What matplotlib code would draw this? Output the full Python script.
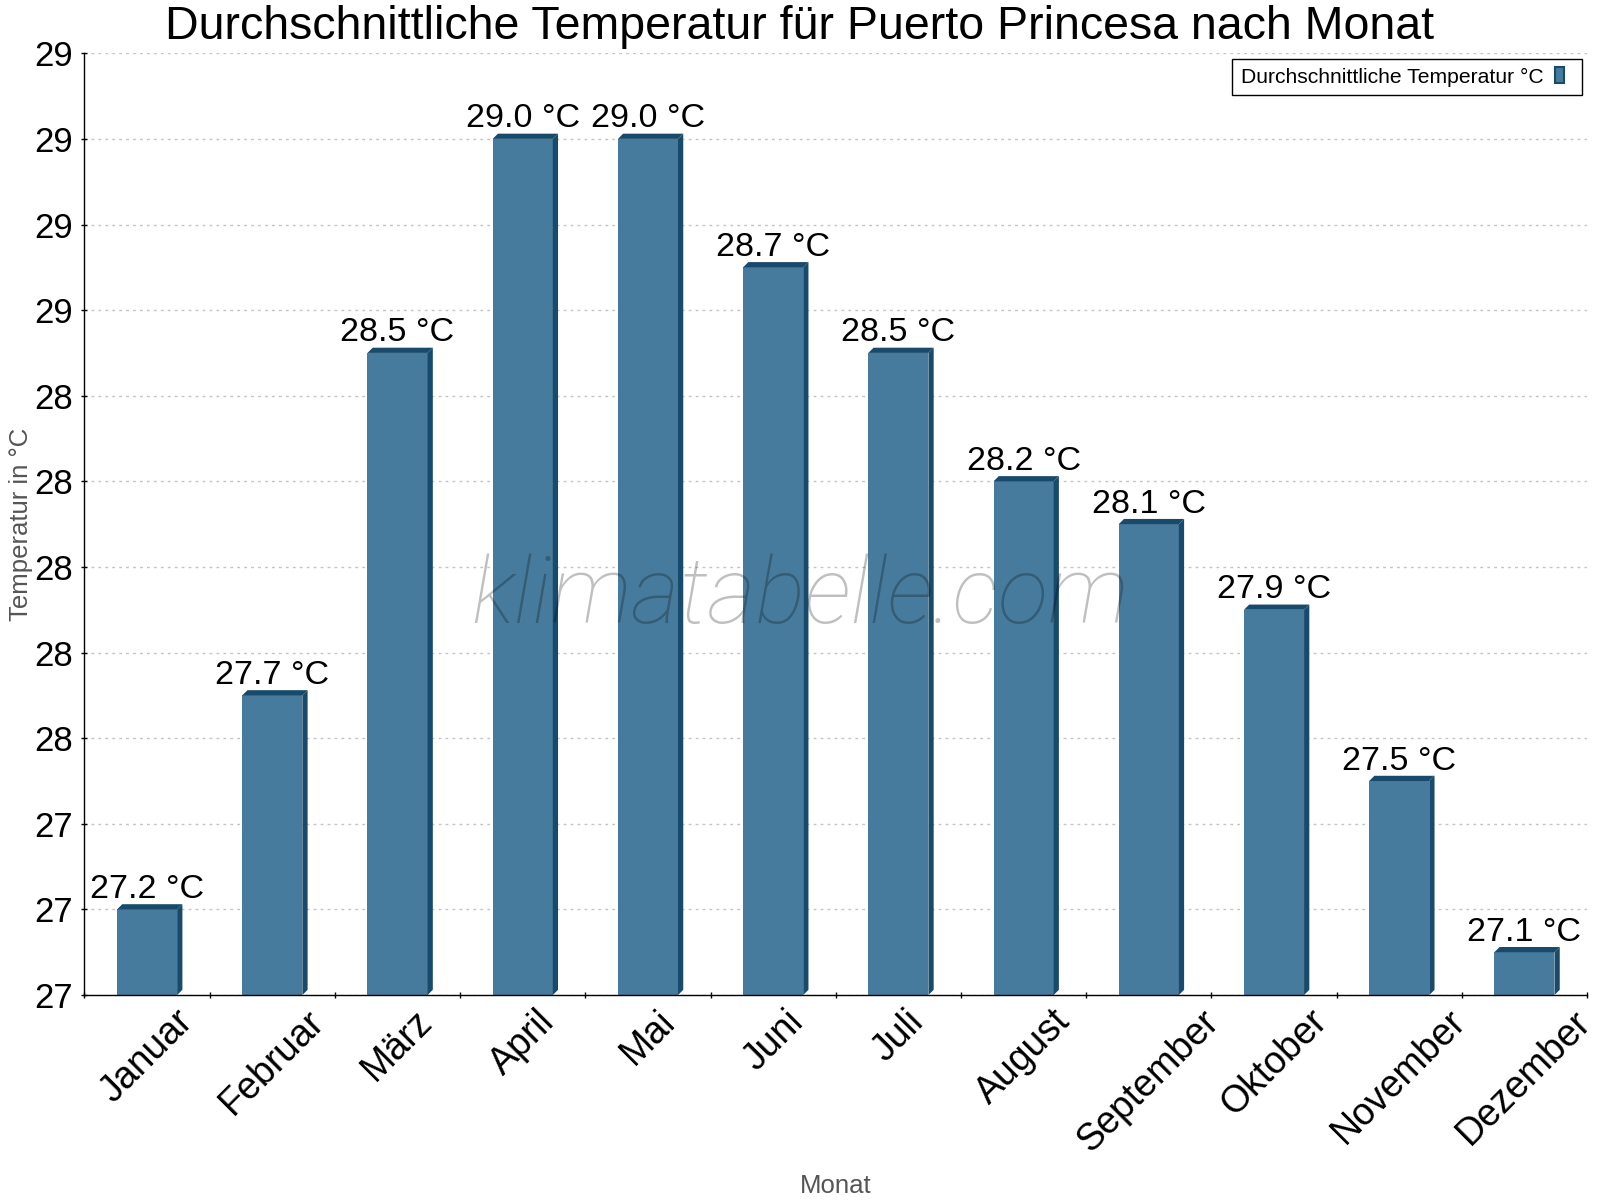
import matplotlib
matplotlib.use("Agg")
import matplotlib.pyplot as plt
import numpy as np
from matplotlib.patches import Polygon, Patch, Rectangle
from matplotlib.legend_handler import HandlerPatch
from matplotlib.ticker import FormatStrFormatter

# Data
months = ["Januar", "Februar", "März", "April", "Mai", "Juni",
          "Juli", "August", "September", "Oktober", "November", "Dezember"]
temps = [27.2, 27.7, 28.5, 29.0, 29.0, 28.7, 28.5, 28.2, 28.1, 27.9, 27.5, 27.1]
y_ticks = [27.0, 27.2, 27.4, 27.6, 27.8, 28.0, 28.2, 28.4, 28.6, 28.8, 29.0, 29.2]

title = "Durchschnittliche Temperatur für Puerto Princesa nach Monat"
series_name = "Durchschnittliche Temperatur °C"

front_color = "#467b9d"
dark_color = "#184a6b"
font = "Liberation Sans"

plt.rcParams['font.family'] = [font, 'DejaVu Sans']

fig = plt.figure(figsize=(16, 12), dpi=100)
ax = fig.add_axes([0.0528, 0.1708, 0.9391, 0.7848])

ymin, ymax = y_ticks[0], y_ticks[-1]
ax.set_xlim(-0.5, len(months) - 0.5)
ax.set_ylim(ymin, ymax)

# grid behind the bars
ax.set_axisbelow(True)
ax.yaxis.grid(True, color='#c4c4c4', linestyle=(0, (2, 3)), linewidth=1)

# bars with a small 3D look (front, side and top face)
x = np.arange(len(months))
width = 0.48
dx, dy = 0.042, 0.0122
ax.bar(x, temps, width=width, color=front_color, zorder=2)
for xi, v in zip(x, temps):
    l, r = xi - width / 2, xi + width / 2
    side = Polygon([(r, ymin), (r + dx, ymin + dy), (r + dx, v + dy), (r, v)],
                   closed=True, facecolor=dark_color, edgecolor='none', zorder=2)
    top = Polygon([(l, v), (l + dx, v + dy), (r + dx, v + dy), (r, v)],
                  closed=True, facecolor=dark_color, edgecolor='none', zorder=2)
    ax.add_patch(side)
    ax.add_patch(top)
    ax.annotate(f"{v:.1f} °C", (xi, v + dy), xytext=(0, 4.5), textcoords='offset points',
                ha='center', va='baseline', fontsize=24.5, color='black', zorder=3)

# axes styling
for s in ['top', 'right']:
    ax.spines[s].set_visible(False)
for s in ['left', 'bottom']:
    ax.spines[s].set_linewidth(1.0)

ax.set_yticks(y_ticks)
ax.yaxis.set_major_formatter(FormatStrFormatter('%.0f'))
ax.tick_params(axis='y', direction='inout', length=5, width=1, labelsize=25, pad=5.5)

ax.set_xticks(np.arange(-0.5, len(months), 1))
ax.set_xticklabels([])
ax.tick_params(axis='x', which='major', direction='inout', length=5, width=1)
ax.set_xticks(x, minor=True)
ax.set_xticklabels(months, minor=True, rotation=45, ha='center', fontsize=27)
ax.tick_params(axis='x', which='minor', length=0, pad=6)

ax.set_ylabel("Temperatur in °C", fontsize=18.5, color='#555555')
ax.yaxis.set_label_coords(-0.034, 0.5)
ax.set_xlabel("Monat", fontsize=18.5, color='#555555')
ax.xaxis.set_label_coords(0.5, -0.19)


# small swatch at the left part of a wider handle area (extra right padding)
def small_swatch(legend, orig_handle, xdescent, ydescent, width, height, fontsize):
    return Rectangle((-xdescent, -ydescent), 9 * 0.72, height)


legend_handle = Patch(facecolor=front_color, edgecolor=dark_color, linewidth=1.5)
ax.legend([legend_handle], [series_name], loc='upper right', bbox_to_anchor=(1, 1),
          fontsize=15.2, markerfirst=False, frameon=True, fancybox=False,
          edgecolor='black', framealpha=1, borderpad=0.42, borderaxespad=0.25,
          handlelength=0.85, handleheight=0.75, handletextpad=0.55,
          handler_map={Patch: HandlerPatch(patch_func=small_swatch)})

fig.text(0.5, 0.9675, title, ha='center', va='baseline', fontsize=33.5)

# watermark
fig.text(0.5, 0.4808, "klimatabelle.com", ha='center', va='baseline', fontsize=67,
         family=['Roboto', 'DejaVu Sans'], fontweight='light', style='italic',
         color='black', alpha=0.25, zorder=10)

fig.savefig("out.png", dpi=100, facecolor='white')
